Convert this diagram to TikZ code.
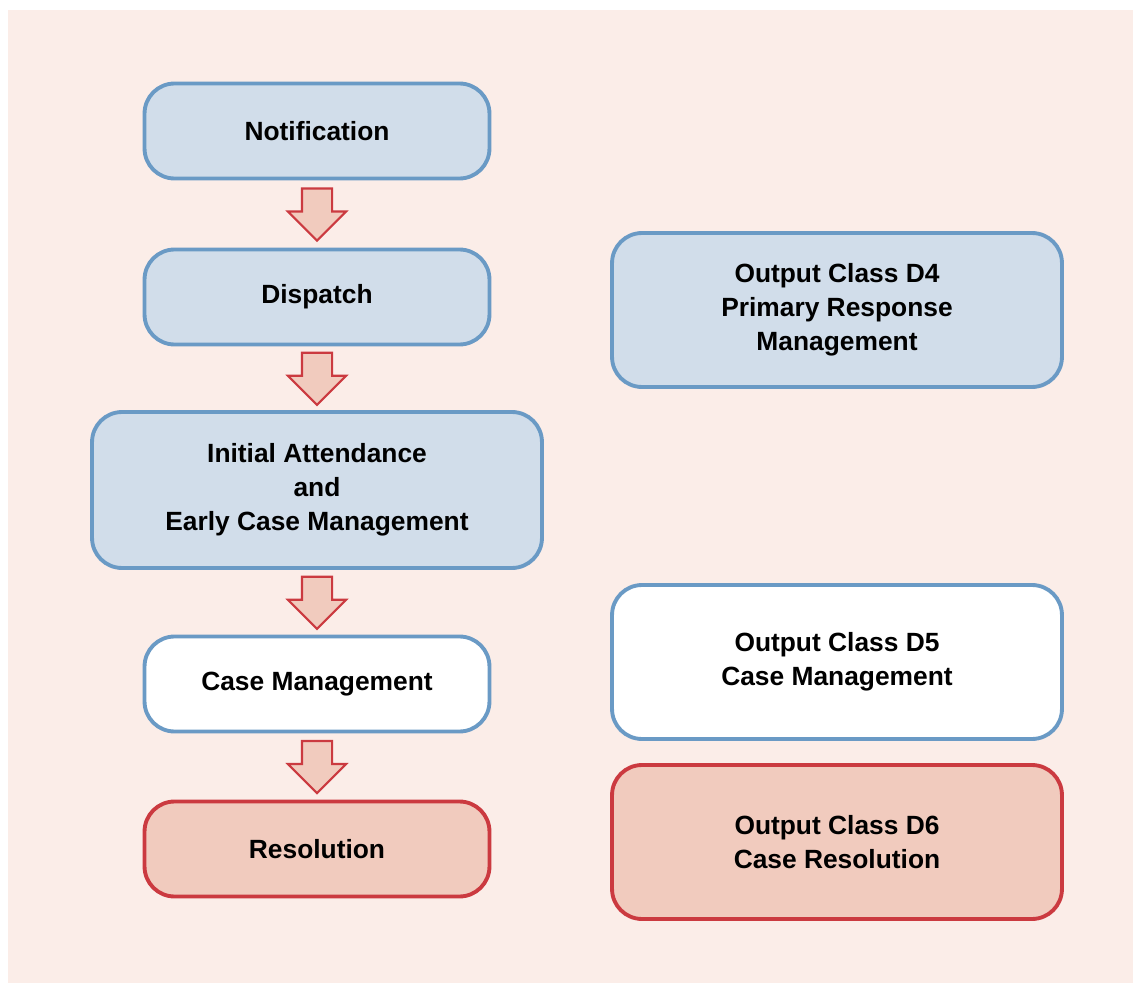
\documentclass[tikz,border=0pt]{standalone}
\usepackage{fontspec}
\setmainfont{Liberation Sans}
\usetikzlibrary{shapes.arrows,calc}
\definecolor{bgpink}{HTML}{FBEDE8}
\definecolor{blueline}{HTML}{6A9AC5}
\definecolor{bluepale}{HTML}{D1DDEA}
\definecolor{redline}{HTML}{CB3A40}
\definecolor{redpale}{HTML}{F1CBBE}
\tikzset{
  stage/.style={draw=blueline,fill=bluepale,rounded corners=6mm,line width=2.2pt,
    minimum width=6.9cm,minimum height=1.9cm,align=center,
    font=\bfseries\fontsize{15}{19.3}\selectfont},
  stagewhite/.style={stage,fill=white},
  stagered/.style={stage,draw=redline,fill=redpale},
  outbox/.style={minimum width=9.0cm,minimum height=3.08cm},
  stepdown/.style={single arrow,draw=redline,fill=redpale,line width=1.2pt,
    minimum height=1.04cm,single arrow head extend=.28cm,
    inner sep=.28cm,shape border rotate=270,yshift=.14cm},
}
\begin{document}
\begin{tikzpicture}[x=.02cm,y=-.02cm]
  \useasboundingbox (0,0) rectangle (1133,983);
  \fill[bgpink] (8,10) rectangle (1133,983);

  % left column
  \node[stage] (notif) at (317,131) {Notification};
  \node[stage] (disp) at (317,297) {Dispatch};
  \node[stage,minimum width=9.0cm,minimum height=3.12cm] (init) at (317,490)
    {Initial Attendance\\and\\Early Case Management};
  \node[stagewhite] (casem) at (317,684) {Case Management};
  \node[stagered] (resol) at (317,849) {Resolution};

  % block arrows
  \node[stepdown] (a1) at ($(notif.south)!.5!(disp.north)$) {};
  \node[stepdown] (a2) at ($(disp.south)!.5!(init.north)$) {};
  \node[stepdown] (a3) at ($(init.south)!.5!(casem.north)$) {};
  \node[stepdown] (a4) at ($(casem.south)!.5!(resol.north)$) {};

  % output classes
  \node[stage,outbox] (d4) at (837,310) {Output Class D4\\Primary Response\\Management};
  \node[stagewhite,outbox] (d5) at (837,662) {Output Class D5\\Case Management};
  \node[stagered,outbox] (d6) at (837,842) {Output Class D6\\Case Resolution};
\end{tikzpicture}
\end{document}
